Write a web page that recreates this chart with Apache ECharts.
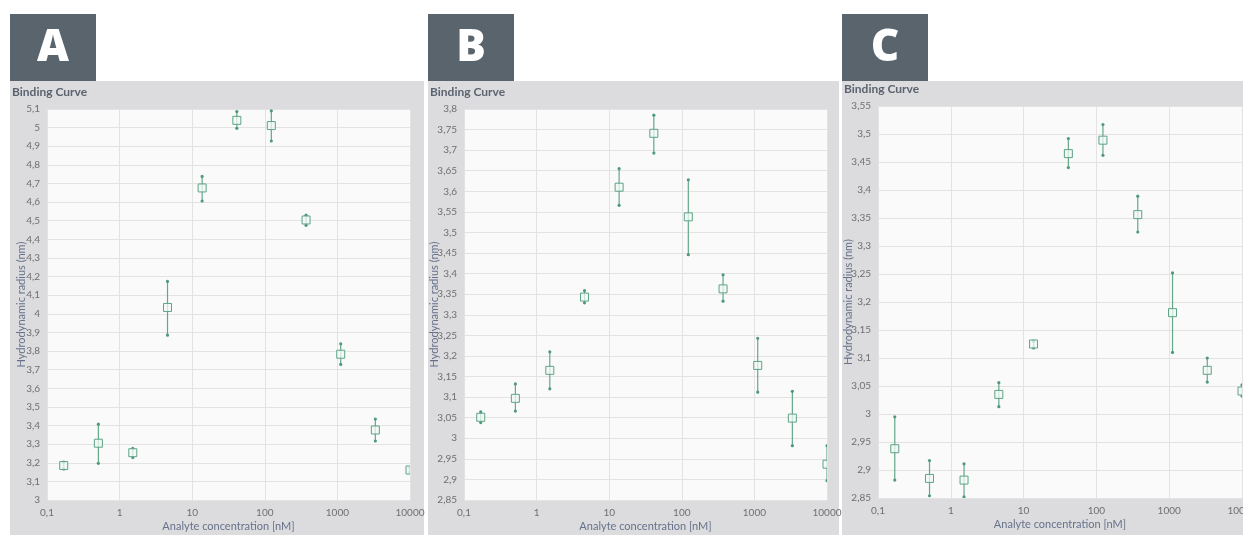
<!DOCTYPE html>
<html>
<head>
<meta charset="utf-8">
<script src="https://cdn.jsdelivr.net/npm/echarts@6/dist/echarts.min.js"></script>
<style>
html, body { margin: 0; padding: 0; background: #fff; }
#chart { width: 1243px; height: 535px; }
</style>
</head>
<body>
<div id="chart"></div>
<script>
// analyte concentration (nM), same dilution series in all three panels
var conc = [0.17, 0.51, 1.52, 4.57, 13.7, 41.2, 123, 370, 1111, 3333, 10000];

// panel A
var radiusA = [3.185, 3.305, 3.254, 4.034, 4.676, 5.039, 5.011, 4.504, 3.783, 3.376, 3.161];
var highA   = [3.203, 3.407, 3.278, 4.174, 4.738, 5.086, 5.090, 4.530, 3.839, 3.435, 3.172];
var lowA    = [3.167, 3.197, 3.228, 3.885, 4.606, 4.996, 4.928, 4.475, 3.728, 3.317, 3.150];

// panel B
var radiusB = [3.051, 3.097, 3.165, 3.343, 3.610, 3.741, 3.538, 3.363, 3.177, 3.049, 2.937];
var highB   = [3.064, 3.132, 3.210, 3.359, 3.655, 3.785, 3.628, 3.397, 3.243, 3.114, 2.982];
var lowB    = [3.038, 3.066, 3.120, 3.329, 3.566, 3.693, 3.446, 3.333, 3.112, 2.982, 2.897];

// panel C
var radiusC = [2.938, 2.885, 2.882, 3.035, 3.125, 3.465, 3.489, 3.356, 3.181, 3.078, 3.041];
var highC   = [2.995, 2.917, 2.911, 3.056, 3.130, 3.492, 3.517, 3.389, 3.252, 3.100, 3.052];
var lowC    = [2.882, 2.854, 2.852, 3.013, 3.118, 3.440, 3.462, 3.325, 3.110, 3.057, 3.032];

var panels = [
    {letter: 'A', frame: [10, 414], grid: [47, 109, 363, 391], yGap: 20, y: [3, 5.1, 0.1], v: radiusA, hi: highA, lo: lowA},
    {letter: 'B', frame: [428, 411], grid: [464, 109, 363, 391], yGap: 24, y: [2.85, 3.8, 0.05], v: radiusB, hi: highB, lo: lowB},
    {letter: 'C', frame: [842, 401], grid: [878, 106, 364, 392], yGap: 24, y: [2.85, 3.55, 0.05], v: radiusC, hi: highC, lo: lowC}
];

var green = '#4f9a7b';
var labelColor = '#6f6f73';
var nameColor = '#66728a';

function comma(v) {
    return String(+(+v).toFixed(3)).replace('.', ',');
}

function renderBar(params, api) {
    var x = api.value(0);
    var p = api.coord([x, api.value(1)]);
    var top = api.coord([x, api.value(2)]);
    var bot = api.coord([x, api.value(3)]);
    var s = 8;
    return {
        type: 'group',
        children: [
            {type: 'line', shape: {x1: top[0], y1: top[1], x2: bot[0], y2: bot[1]},
             style: {stroke: '#64a889', lineWidth: 1.2}},
            {type: 'circle', shape: {cx: top[0], cy: top[1], r: 1.6}, style: {fill: green}},
            {type: 'circle', shape: {cx: bot[0], cy: bot[1], r: 1.6}, style: {fill: green}},
            {type: 'rect', shape: {x: p[0] - s / 2, y: p[1] - s / 2, width: s, height: s},
             style: {fill: 'rgba(240,248,244,0.75)', stroke: '#5ea386', lineWidth: 1}}
        ]
    };
}

var graphic = [], grid = [], xAxis = [], yAxis = [], series = [], title = [];

panels.forEach(function (pn, i) {
    graphic.push({type: 'rect', z: -10, shape: {x: pn.frame[0], y: 81, width: pn.frame[1], height: 454},
                  style: {fill: '#dcdcdf'}});
    graphic.push({type: 'rect', z: -10, shape: {x: pn.frame[0], y: 14, width: 86, height: 67},
                  style: {fill: '#59646c'}});
    graphic.push({type: 'text', z: 5, x: pn.frame[0] + 43, y: 48,
                  style: {text: pn.letter, fill: '#fff', font: '800 44px "Open Sans"', align: 'center', verticalAlign: 'middle'}});
    title.push({text: 'Binding Curve', left: pn.frame[0] + 2, top: i === 2 ? 83 : 86,
                textStyle: {fontFamily: 'Lato', fontSize: 12, fontWeight: 'bold', color: '#5b636f'}, padding: 0});

    grid.push({left: pn.grid[0], top: pn.grid[1], width: pn.grid[2], height: pn.grid[3],
               outerBoundsMode: 'none', containLabel: false,
               show: true, backgroundColor: '#fafafa', borderWidth: 0});
    xAxis.push({
        type: 'log', logBase: 10, min: 0.1, max: 10000, gridIndex: i,
        name: 'Analyte concentration [nM]', nameLocation: 'middle', nameGap: 21, nameMoveOverlap: false,
        nameTextStyle: {fontFamily: 'Lato', fontSize: 11, color: nameColor},
        axisLine: {show: false}, axisTick: {show: false}, minorTick: {show: false},
        axisLabel: {fontFamily: 'Lato', fontSize: 10, color: labelColor, margin: 8, formatter: comma,
                    showMinLabel: true, showMaxLabel: true},
        splitLine: {show: true, lineStyle: {color: '#e3e3e3', width: 1}}
    });
    yAxis.push({
        type: 'value', min: pn.y[0], max: pn.y[1], interval: pn.y[2], gridIndex: i,
        name: 'Hydrodynamic radius (nm)', nameLocation: 'middle', nameGap: pn.yGap, nameMoveOverlap: false,
        nameTextStyle: {fontFamily: 'Lato', fontSize: 11, color: nameColor},
        axisLine: {show: false}, axisTick: {show: false},
        axisLabel: {fontFamily: 'Lato', fontSize: 10, color: labelColor, margin: 7, formatter: comma},
        splitLine: {show: true, lineStyle: {color: '#e3e3e3', width: 1}}
    });
    series.push({
        type: 'custom', xAxisIndex: i, yAxisIndex: i, clip: true,
        renderItem: renderBar,
        encode: {x: 0, y: [1, 2, 3]},
        data: conc.map(function (c, k) { return [c, pn.v[k], pn.hi[k], pn.lo[k]]; })
    });
});

var chart = echarts.init(document.getElementById('chart'));
chart.setOption({
    animation: false,
    backgroundColor: '#ffffff',
    title: title,
    graphic: graphic,
    grid: grid,
    xAxis: xAxis,
    yAxis: yAxis,
    series: series
});
</script>
</body>
</html>
